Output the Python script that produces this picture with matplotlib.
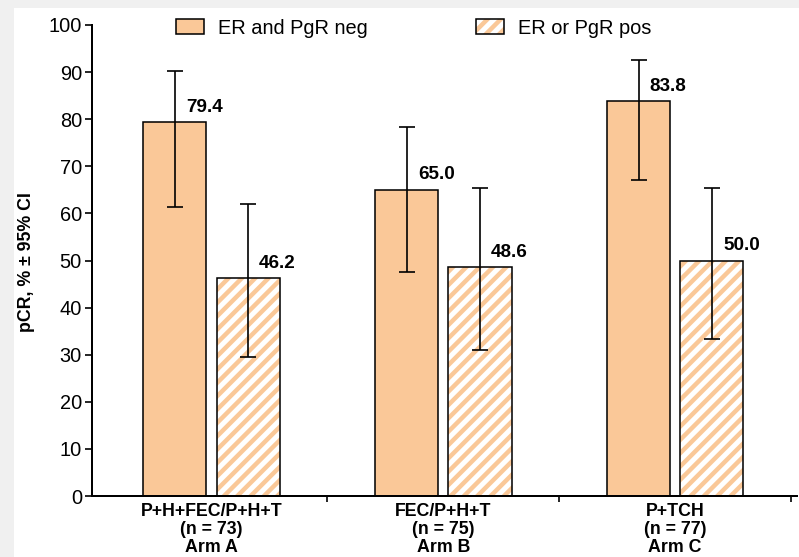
import matplotlib.pyplot as plt
import numpy as np
from matplotlib.patches import Rectangle

# pCR rates with 95% CI per treatment arm
arms = ["P+H+FEC/P+H+T\n(n = 73)\nArm A",
        "FEC/P+H+T\n(n = 75)\nArm B",
        "P+TCH\n(n = 77)\nArm C"]
neg_vals = [79.4, 65.0, 83.8]
neg_lo = [61.3, 47.6, 67.1]
neg_hi = [90.2, 78.3, 92.5]
pos_vals = [46.2, 48.6, 50.0]
pos_lo = [29.6, 31.0, 33.3]
pos_hi = [61.9, 65.3, 65.3]
series_names = ["ER and PgR neg", "ER or PgR pos"]

orange = "#fac898"
plt.rcParams['font.family'] = ['Liberation Sans', 'DejaVu Sans']
plt.rcParams['hatch.linewidth'] = 4.0

fig = plt.figure(figsize=(799 / 80, 557 / 80), dpi=80, facecolor="#f0f0f0")
# white panel with a thin grey margin on the left and top
fig.patches.append(Rectangle((14 / 799, 0), 1, 1 - 8 / 557, transform=fig.transFigure,
                             facecolor="white", edgecolor="none", zorder=-1))
ax = fig.add_axes([92 / 799, 1 - 496 / 557, 705 / 799, 471 / 557])
ax.set_facecolor("none")

x = np.arange(len(arms))
w = 0.272
off = 0.158

neg_err = [np.subtract(neg_vals, neg_lo), np.subtract(neg_hi, neg_vals)]
pos_err = [np.subtract(pos_vals, pos_lo), np.subtract(pos_hi, pos_vals)]

ax.bar(x - off, neg_vals, w, color=orange, edgecolor="black", linewidth=1.4,
       label=series_names[0], zorder=2)
# hatched bars: stripes first, black outline on top
ax.bar(x + off, pos_vals, w, color="white", edgecolor=orange, hatch="//",
       linewidth=0, zorder=2)
ax.bar(x + off, pos_vals, w, fill=False, edgecolor="black", linewidth=1.4, zorder=3)

ax.errorbar(x - off, neg_vals, yerr=neg_err, fmt="none", ecolor="black",
            elinewidth=1.5, capsize=7, capthick=1.5, zorder=4)
ax.errorbar(x + off, pos_vals, yerr=pos_err, fmt="none", ecolor="black",
            elinewidth=1.5, capsize=7, capthick=1.5, zorder=4)

for xs, vals in ((x - off, neg_vals), (x + off, pos_vals)):
    for xi, v in zip(xs, vals):
        ax.annotate(f"{v:.1f}", (xi, v), xytext=(10, 13.5), textcoords="offset points",
                    ha="left", va="center", fontsize=17, fontweight="bold")

ax.set_xlim(-0.515, 2.525)
ax.set_ylim(0, 100)
ax.set_yticks(np.arange(0, 101, 10))
ax.set_xticks(x)
ax.set_xticklabels(arms, fontsize=16, fontweight="bold", linespacing=1.08)
ax.set_xticks([0.5, 1.5, 2.5], minor=True)
ax.tick_params(axis="x", which="major", length=0, pad=6)
ax.tick_params(axis="x", which="minor", length=5, width=1.5, direction="out")
ax.tick_params(axis="y", length=6, width=1.5, labelsize=18, pad=3)

for side in ("top", "right"):
    ax.spines[side].set_visible(False)
for side in ("left", "bottom"):
    ax.spines[side].set_linewidth(1.8)

ax.set_ylabel("pCR, % ± 95% CI", fontsize=16, fontweight="bold")
ax.yaxis.set_label_coords(-0.081, 0.496)

# legend patches
h1 = Rectangle((0, 0), 1, 1, facecolor=orange, edgecolor="black", linewidth=1.4)
h2 = Rectangle((0, 0), 1, 1, facecolor="white", edgecolor=orange, hatch="//", linewidth=0)
h2b = Rectangle((0, 0), 1, 1, fill=False, edgecolor="black", linewidth=1.4)
fig.legend([h1, (h2, h2b)], series_names, loc="center left",
           bbox_to_anchor=(176 / 799, 1 - 28 / 557), ncol=2, frameon=False,
           fontsize=18, borderpad=0, borderaxespad=0, handlelength=1.4,
           handleheight=0.75, handletextpad=0.7, columnspacing=5.4)

fig.savefig("out.png", dpi=80, facecolor=fig.get_facecolor())
